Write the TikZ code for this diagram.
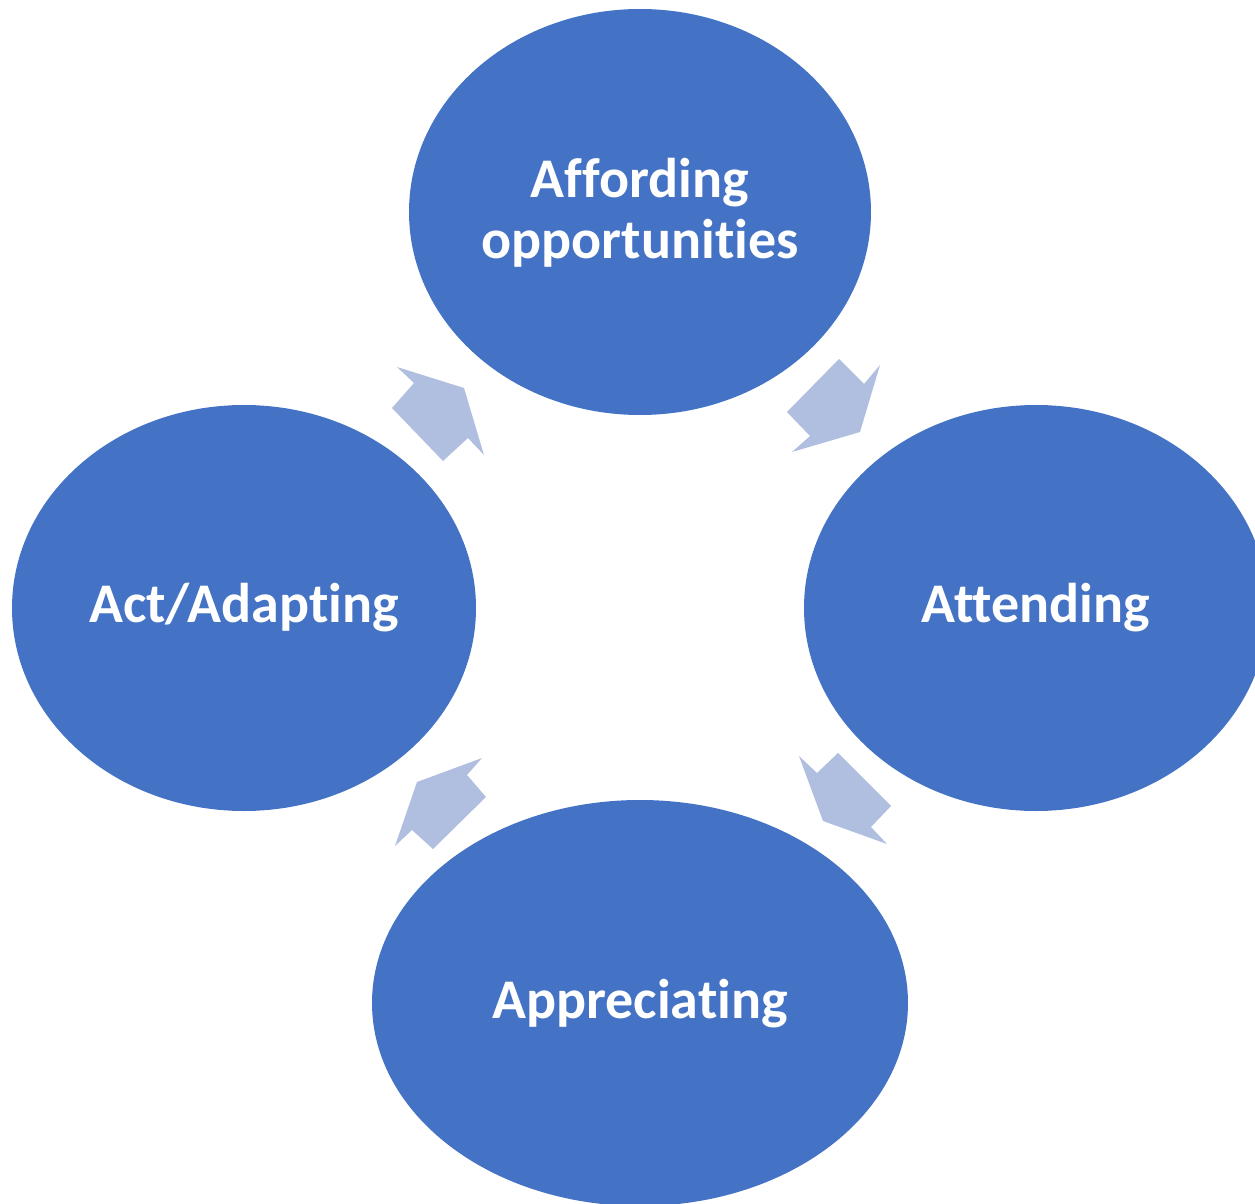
\documentclass[tikz,border=0pt]{standalone}
\usepackage{fontspec}
\setmainfont{Carlito}[Ligatures={NoCommon}]
\usetikzlibrary{shapes.geometric}
\definecolor{blobblue}{HTML}{4472C4}
\definecolor{arrowblue}{HTML}{B0BEDF}
\tikzset{
  blob/.style={ellipse, fill=blobblue, draw=none, inner sep=0pt},
  lbl/.style={text=white, anchor=base, inner sep=0pt, font=\bfseries\fontsize{28pt}{34pt}\selectfont},
  blockarrow/.style={fill=arrowblue, draw=none}
}
\begin{document}
\begin{tikzpicture}[x=0.5pt,y=-0.5pt]
\useasboundingbox (0,0) rectangle (1255,1204);
\clip (0,0) rectangle (1255,1204);
% ellipses
\node[blob, minimum width=231pt, minimum height=203pt] (afford) at (640,212) {};
\node[blob, minimum width=232pt, minimum height=203pt] (attend) at (1036,608) {};
\node[blob, minimum width=268pt, minimum height=203pt] (apprec) at (640,1003) {};
\node[blob, minimum width=232pt, minimum height=203pt] (act) at (244,608) {};
% labels
\node[lbl] (t1a) at (640,198) {Affording};
\node[lbl] (t1b) at (640,258) {opportunities};
\node[lbl] (t2) at (1036,622) {Attending};
\node[lbl] (t3) at (640,1018) {Appreciating};
\node[lbl] (t4) at (244,622) {Act/Adapting};
% block arrows
\fill[blockarrow] (839,359) -- (864,384) -- (880,365) -- (860,432) -- (792,452) -- (810,436) -- (787,412) -- cycle;
\fill[blockarrow] (838,753) -- (891,806) -- (871,827) -- (887,844) -- (823,821) -- (799,756) -- (817,773) -- cycle;
\fill[blockarrow] (433,849) -- (486,797) -- (467,775) -- (482,758) -- (417,782) -- (395,846) -- (412,830) -- cycle;
\fill[blockarrow] (392,408) -- (443,461) -- (468,438) -- (484,455) -- (464,388) -- (397,367) -- (414,383) -- cycle;
\end{tikzpicture}
\end{document}
